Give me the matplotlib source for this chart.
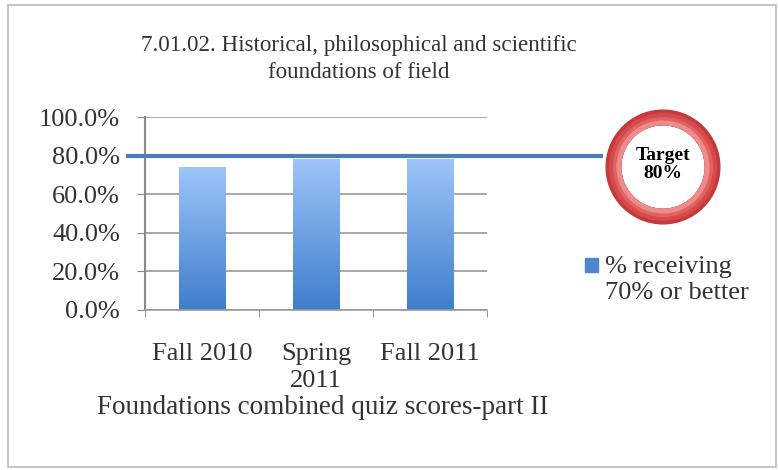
import numpy as np
import matplotlib
matplotlib.use("Agg")
import matplotlib.pyplot as plt
from matplotlib.patches import Rectangle, Wedge
from matplotlib.colors import LinearSegmentedColormap

categories = ["Fall 2010", "Spring\n2011", "Fall 2011"]
pct_70_or_better = [74.0, 78.0, 78.0]
target = 80.0
yticks = [0, 20, 40, 60, 80, 100]

plt.rcParams["font.family"] = ["Liberation Serif", "DejaVu Serif"]
txt = "#333333"

fig = plt.figure(figsize=(7.78, 4.70), dpi=100)
fig.patches.append(Rectangle((8 / 778, 3 / 470), 768 / 778, 462 / 470, transform=fig.transFigure,
                             fill=False, edgecolor="#BBBBBB", lw=1.2))

ax = fig.add_axes([145 / 778, 1 - 310 / 470, 342 / 778, 193 / 470])
x = np.arange(len(categories))
bars = ax.bar(x, pct_70_or_better, width=0.41, color="none", zorder=2)

# vertical gradient fill for each bar
cmap = LinearSegmentedColormap.from_list("blu", ["#3F7ECB", "#9EC4FA"])
grad = np.linspace(0, 1, 256).reshape(-1, 1)
for b in bars:
    im = ax.imshow(grad, cmap=cmap, origin="lower", aspect="auto", zorder=2,
                   extent=[b.get_x(), b.get_x() + b.get_width(), 0, b.get_height()])
    im.set_clip_path(b)

ax.set_xlim(-0.5, 2.5)
ax.set_ylim(0, 100)
ax.set_yticks(yticks)
ax.set_yticklabels([f"{v:.1f}%" for v in yticks], fontsize=19, color=txt)
ax.set_xticks(x)
ax.set_xticklabels(categories, fontsize=19, color=txt, linespacing=1.25)
ax.set_xticks([-0.5, 0.5, 1.5, 2.5], minor=True)
ax.tick_params(axis="x", which="major", length=0, pad=24)
ax.tick_params(axis="x", which="minor", length=5, color="#888888")
ax.tick_params(axis="y", length=6, color="#888888", pad=12)
ax.grid(axis="y", color="#999999", lw=1.2, zorder=0)
for s in ["top", "right"]:
    ax.spines[s].set_visible(False)
ax.spines["left"].set_color("#888888")
ax.spines["left"].set_linewidth(1.5)
ax.spines["bottom"].set_color("#999999")
ax.spines["bottom"].set_linewidth(1.2)
ax.set_xlabel("Foundations combined quiz scores-part II", fontsize=19.5, color=txt)
ax.xaxis.set_label_coords(0.52, -0.505)
ax.xaxis.label.set_va("center")

# target line running out to the badge
ax.plot([-0.65, 3.5], [target, target], color="#4A7EBB", lw=3, clip_on=False, zorder=3)

fig.text(359 / 778, 1 - 59 / 470, "7.01.02. Historical, philosophical and scientific\nfoundations of field",
         ha="center", va="center", fontsize=16.6, color=txt, linespacing=1.4)

# target badge
bx = fig.add_axes([605 / 778, 1 - 225 / 470, 116 / 778, 116 / 470])
bx.set_xlim(-1, 1)
bx.set_ylim(-1, 1)
bx.set_aspect("equal")
bx.axis("off")
for r, c in [(0.98, "#C43A3A"), (0.92, "#D64A4A"), (0.85, "#E26262"), (0.79, "#EE8C8C")]:
    bx.add_patch(Wedge((0, 0), r, 0, 360, width=r - 0.73, color=c))
bx.text(0, 0.04, "Target\n80%", ha="center", va="center", fontsize=14, fontweight="bold",
        color="black", linespacing=1.05)

# legend
fig.patches.append(Rectangle((585 / 778, 1 - 272 / 470), 13 / 778, 14 / 470, transform=fig.transFigure,
                             color="#4F86D0"))
fig.text(605 / 778, 1 - 280 / 470, "% receiving\n70% or better", ha="left", va="center", fontsize=19,
         color=txt, linespacing=1.25)

fig.savefig("out.png", dpi=100)
